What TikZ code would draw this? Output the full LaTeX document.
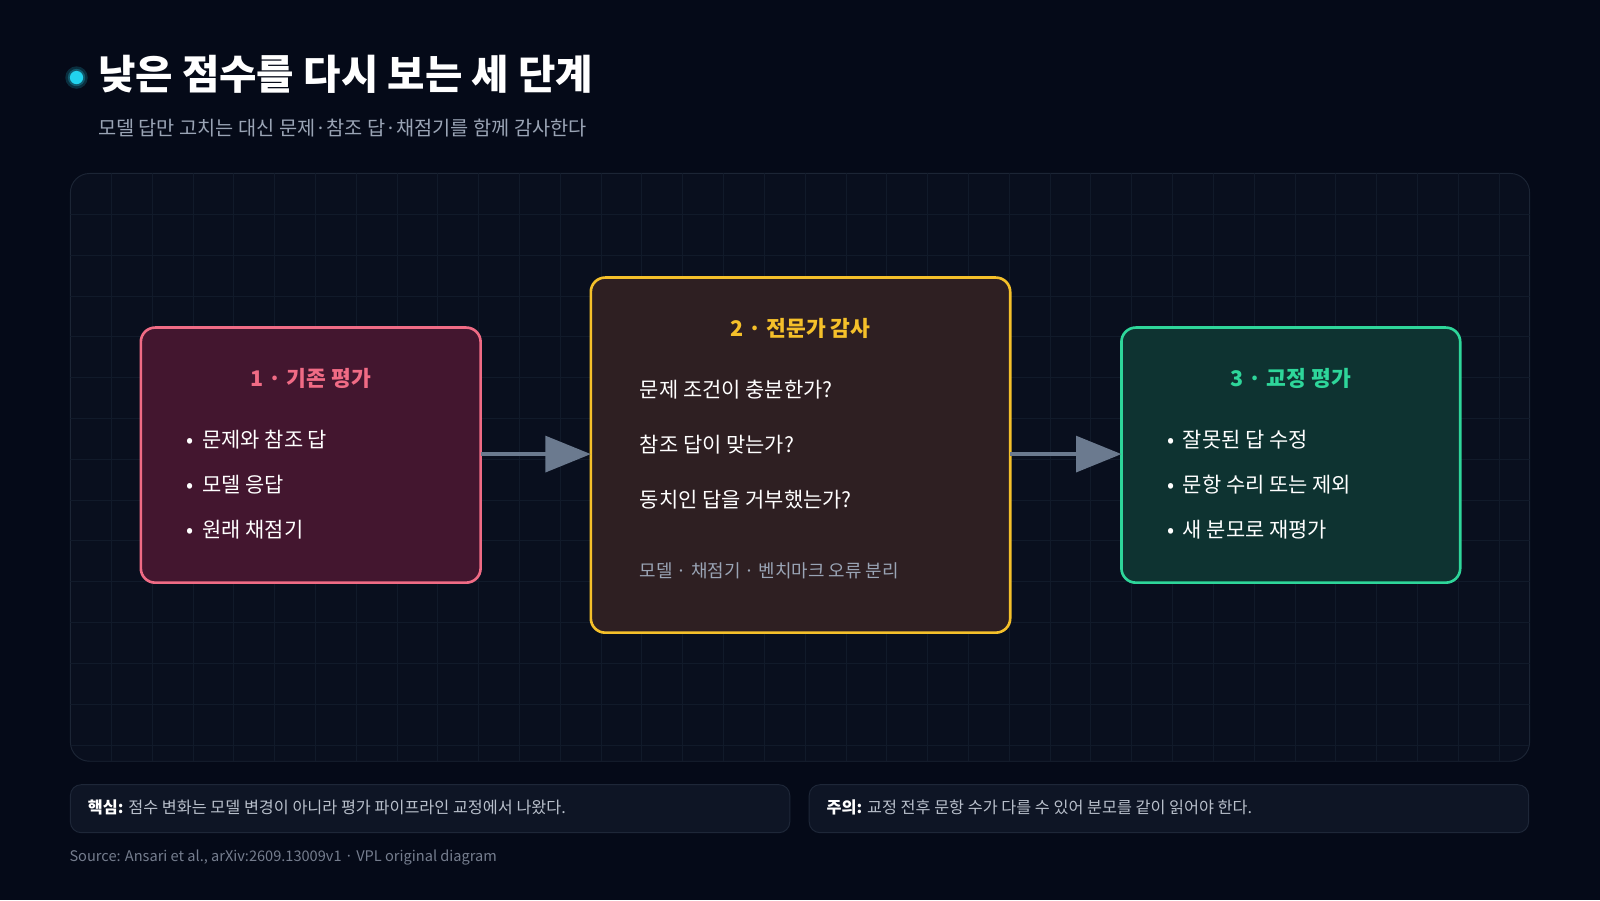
\documentclass[tikz,border=0pt]{standalone}
\usepackage{fontspec}
\setmainfont{Noto Sans CJK KR}
\usetikzlibrary{arrows.meta}
\definecolor{bg}{HTML}{050A18}
\definecolor{panel}{HTML}{090F1E}
\definecolor{panelb}{HTML}{1C2535}
\definecolor{gridc}{HTML}{111A2A}
\definecolor{sub}{HTML}{9AA4B5}
\definecolor{pinkf}{HTML}{43162F}\definecolor{pinkb}{HTML}{F06B85}
\definecolor{yelf}{HTML}{2E1F22}\definecolor{yelb}{HTML}{F5C02A}
\definecolor{grnf}{HTML}{0E3331}\definecolor{grnb}{HTML}{2ED69A}
\definecolor{arr}{HTML}{6B7A8F}
\definecolor{notef}{HTML}{0E1525}\definecolor{noteb}{HTML}{1E2738}
\definecolor{cyan1}{HTML}{22D3EE}
\begin{document}
\begin{tikzpicture}[x=0.03cm,y=-0.03cm,
  box/.style={draw, line width=2.2pt, rounded corners=12pt},
  btitle/.style={anchor=center, font=\bfseries\fontsize{18}{20}\selectfont},
  item/.style={anchor=west, text=white, font=\fontsize{17.5}{19}\selectfont},
  note/.style={draw=noteb, fill=notef, line width=0.8pt, rounded corners=9pt},
  arrow/.style={draw=arr, line width=3pt, -{Triangle[length=38pt,width=30pt]}}]
\fill[bg] (0,0) rectangle (1568,882);
\useasboundingbox (0,0) rectangle (1568,882);
% title
\fill[cyan1!18!bg] (75,76) circle (11);
\fill[cyan1!40!bg] (75,76) circle (8.5);
\fill[cyan1] (75,76) circle (6.5);
\node[anchor=west, text=white, font=\bfseries\fontsize{34}{37}\selectfont] (title) at (92,73) {낮은 점수를 다시 보는 세 단계};
\node[anchor=west, text=sub, font=\fontsize{16.5}{18}\selectfont] (subt) at (92,125) {모델 답만 고치는 대신 문제·참조 답·채점기를 함께 감사한다};
% panel
\draw[fill=panel, draw=panelb, line width=0.8pt, rounded corners=16pt] (69,170) rectangle (1499,746);
\begin{scope}
\clip[rounded corners=16pt] (69,170) rectangle (1499,746);
\foreach \x in {109,149,...,1499} \draw[gridc, line width=0.6pt] (\x,170) -- (\x,746);
\foreach \y in {210,250,...,746} \draw[gridc, line width=0.6pt] (69,\y) -- (1499,\y);
\end{scope}
% boxes
\draw[box, draw=pinkb, fill=pinkf] (138,321) rectangle (471,571);
\coordinate (b1) at (471,445);
\node[btitle, text=pinkb] (t1) at (304.5,371) {1 · 기존 평가};
\foreach \t/\y [count=\i] in {문제와 참조 답/431, 모델 응답/475, 원래 채점기/519}
  \node[item] (a\i) at (179,\y) {•\hspace{7pt}\t};
\draw[box, draw=yelb, fill=yelf] (579,272) rectangle (990,620);
\coordinate (b2l) at (579,445); \coordinate (b2r) at (990,445);
\node[btitle, text=yelb] (t2) at (784.5,322) {2 · 전문가 감사};
\foreach \t/\y [count=\i] in {문제 조건이 충분한가?/382, 참조 답이 맞는가?/436, 동치인 답을 거부했는가?/490}
  \node[item] (c\i) at (623,\y) {\t};
\node[anchor=west, text=sub, font=\fontsize{15}{17}\selectfont] (foot) at (623,559) {모델 · 채점기 · 벤치마크 오류 분리};
\draw[box, draw=grnb, fill=grnf] (1099,321) rectangle (1431,571);
\coordinate (b3) at (1099,445);
\node[btitle, text=grnb] (t3) at (1265,371) {3 · 교정 평가};
\foreach \t/\y [count=\i] in {잘못된 답 수정/431, 문항 수리 또는 제외/475, 새 분모로 재평가/519}
  \node[item] (d\i) at (1140,\y) {•\hspace{7pt}\t};
\draw[arrow] (b1) -- (b2l);
\draw[arrow] (b2r) -- (b3);
% notes
\draw[note] (69,769) rectangle (774,816);
\draw[note] (793,769) rectangle (1498,816);
\node[anchor=west, text=sub!70!white, font=\fontsize{13.6}{15}\selectfont] (n1) at (82,791) {\textcolor{white}{\bfseries 핵심:} 점수 변화는 모델 변경이 아니라 평가 파이프라인 교정에서 나왔다.};
\node[anchor=west, text=sub!70!white, font=\fontsize{13.6}{15}\selectfont] (n2) at (806,791) {\textcolor{white}{\bfseries 주의:} 교정 전후 문항 수가 다를 수 있어 분모를 같이 읽어야 한다.};
\node[anchor=west, text=sub!75!bg, font=\fontsize{12.2}{14}\selectfont] (src) at (64,840) {Source: Ansari et al., arXiv:2609.13009v1 · VPL original diagram};
\end{tikzpicture}
\end{document}
